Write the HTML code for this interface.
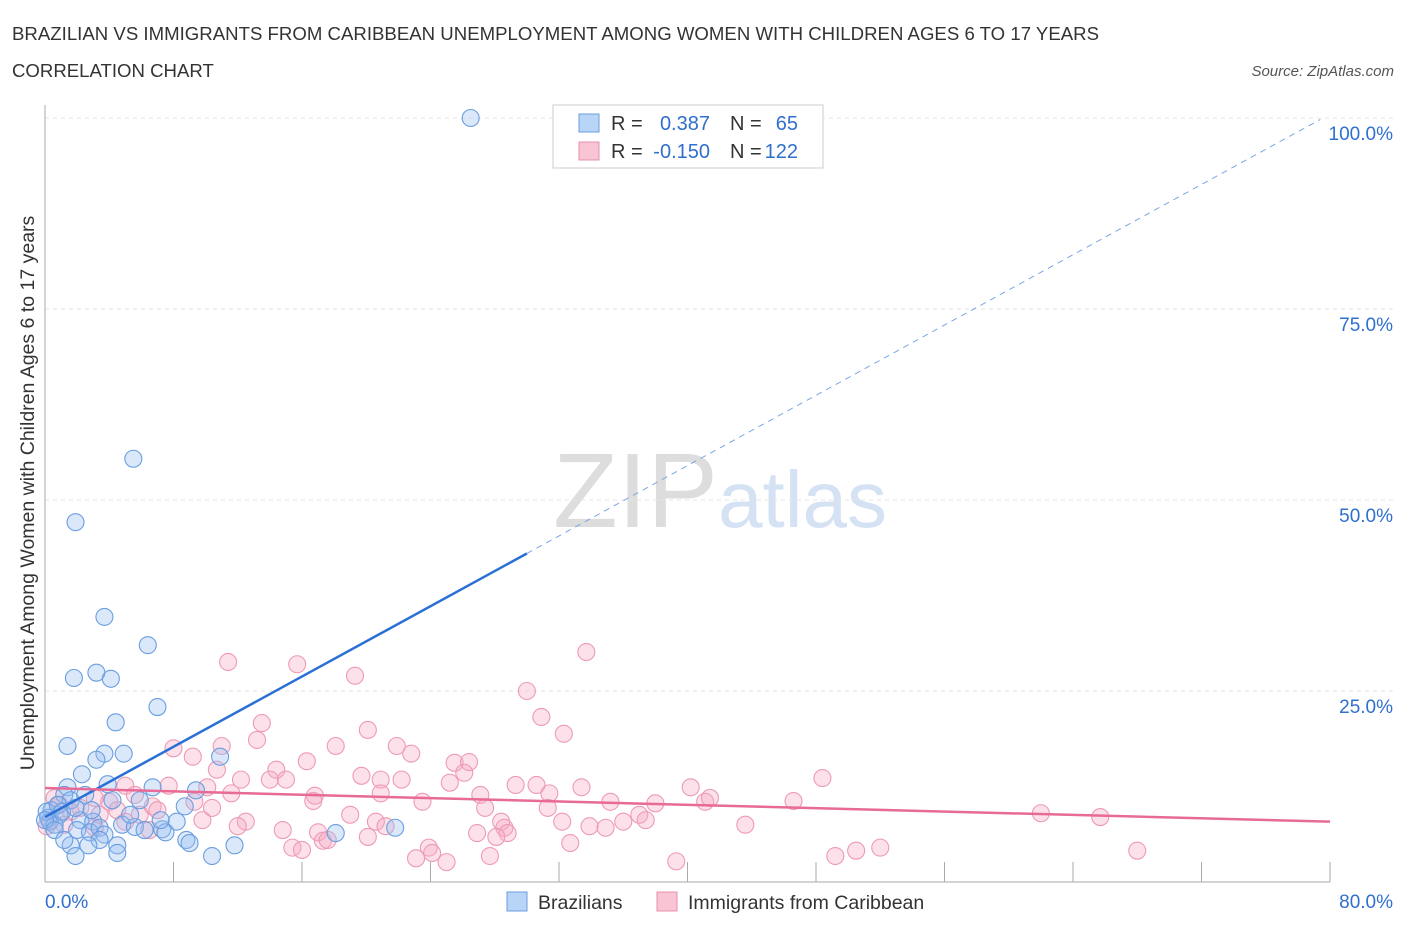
<!DOCTYPE html>
<html><head><meta charset="utf-8"><style>
body{margin:0;background:#fff;font-family:"Liberation Sans",sans-serif;}
svg text{font-family:"Liberation Sans",sans-serif;}
</style></head><body>
<svg width="1406" height="930" xmlns="http://www.w3.org/2000/svg">
<text x="12" y="40" font-size="18.6" fill="#333" textLength="1087">BRAZILIAN VS IMMIGRANTS FROM CARIBBEAN UNEMPLOYMENT AMONG WOMEN WITH CHILDREN AGES 6 TO 17 YEARS</text>
<text x="12" y="77" font-size="18.6" fill="#333">CORRELATION CHART</text>
<text x="1394" y="76" font-size="15" fill="#555" font-style="italic" text-anchor="end">Source: ZipAtlas.com</text>
<g>
<text x="553" y="527" font-size="106" fill="#ddd" font-family="Liberation Serif">ZIP</text>
<text x="718" y="527" font-size="80" fill="#d4e2f4">atlas</text>
</g>
<g id="grid"></g>
<g id="axes"></g>
<g id="pts"></g>
<g id="lines"></g>
<g font-size="20">
<rect x="553" y="105" width="270" height="63" fill="#fff" stroke="#ccc"/>
<rect x="579" y="114" width="20" height="18" fill="#b8d4f6" stroke="#6a9ee0"/>
<rect x="579" y="142" width="20" height="18" fill="#f9c4d4" stroke="#e890aa"/>
<text x="611" y="130" fill="#333">R =</text><text x="710" y="130" fill="#2f6fce" text-anchor="end">0.387</text>
<text x="730" y="130" fill="#333">N =</text><text x="798" y="130" fill="#2f6fce" text-anchor="end">65</text>
<text x="611" y="158" fill="#333">R =</text><text x="710" y="158" fill="#2f6fce" text-anchor="end">-0.150</text>
<text x="730" y="158" fill="#333">N =</text><text x="798" y="158" fill="#2f6fce" text-anchor="end">122</text>
</g>
<g>
<rect x="507" y="892" width="20" height="19" fill="#b8d4f6" stroke="#6a9ee0"/>
<text x="538" y="909" font-size="19.5" fill="#333">Brazilians</text>
<rect x="657" y="892" width="20" height="19" fill="#f9c4d4" stroke="#e890aa"/>
<text x="688" y="909" font-size="19.5" fill="#333">Immigrants from Caribbean</text>
</g>
<text x="34" y="493" font-size="19.5" fill="#333" text-anchor="middle" transform="rotate(-90 34 493)">Unemployment Among Women with Children Ages 6 to 17 years</text>
</svg>
<script>
const blueX=[26.5,5.5,1.9,3.7,6.4,1.8,3.2,4.1,7.0,4.4,1.4,3.7,4.9,3.2,2.3,10.9,3.9,6.7,1.4,1.2,9.4,4.2,8.7,0.4,0.9,0.2,0.3,0.6,0.1,2.2,3.0,2.0,2.8,3.4,3.7,4.8,5.6,7.3,7.5,8.2,3.4,2.7,1.6,4.5,8.8,9.0,11.8,4.5,1.9,10.4,18.1,21.8,2.9,1.6,0,0.8,1.06,1.9,5.9,2.5,5.3,7.2,0.6,1.2,6.2];
const blueY=[100,55.4,47.1,34.7,31.0,26.7,27.4,26.6,22.9,20.9,17.8,16.8,16.8,16.0,14.1,16.4,12.8,12.4,12.4,11.4,12.0,10.7,9.9,9.4,8.8,8.4,7.9,7.5,9.2,8.1,7.9,6.8,6.5,7.1,6.2,7.5,7.2,6.9,6.5,7.9,5.5,4.8,4.8,4.8,5.5,5.1,4.8,3.8,3.4,3.4,6.4,7.1,9.4,10.7,8.1,10.1,9.2,9.7,10.7,11.4,8.8,8.1,6.8,5.5,6.8];
const pinkX=[33.7,11.4,15.7,19.3,30.0,30.9,13.5,32.3,20.1,13.2,8.0,11.0,18.1,21.9,22.8,9.2,16.3,25.5,26.4,26.1,10.7,14.4,19.7,48.4,20.9,22.2,14.0,15.0,12.2,25.2,29.3,30.6,33.4,40.2,5.0,7.7,10.1,20.9,31.4,11.6,16.8,27.1,5.6,0.6,3.1,35.2,38.0,41.1,41.4,46.6,23.5,16.7,9.3,6.7,4.0,27.4,31.3,10.4,7.0,62.0,65.7,19.0,37.0,37.4,36.0,28.4,32.2,43.6,20.6,12.5,9.8,5.0,21.2,28.6,12.0,33.9,34.9,14.8,26.9,28.8,17.0,20.1,17.3,17.6,28.1,32.7,15.4,16.0,23.9,24.1,23.1,25.0,27.7,39.3,49.2,50.5,52.0,68.0,0.9,1.6,2.2,0.3,3.4,4.5,5.9,1.2,3.1,6.5,0.1];
const pinkY=[30.1,28.8,28.5,27.0,25.0,21.6,20.8,19.4,19.9,18.6,17.5,17.8,17.8,17.8,16.8,16.4,15.8,15.6,15.7,14.3,14.7,14.7,13.9,13.6,13.4,13.4,13.4,13.4,13.4,13.0,12.7,12.7,12.4,12.4,12.6,12.6,12.4,11.6,11.6,11.6,11.3,11.4,11.4,11.0,11.0,10.5,10.3,10.5,11.0,10.6,10.5,10.6,10.5,9.9,10.5,9.7,9.7,9.7,9.4,9.0,8.5,8.8,8.8,8.1,7.9,7.9,7.9,7.5,7.9,7.9,8.1,7.9,7.3,7.1,7.3,7.3,7.1,6.8,6.4,6.4,6.5,5.9,5.4,5.5,5.9,5.1,4.5,4.2,4.5,3.8,3.1,2.6,3.4,2.7,3.4,4.1,4.5,4.1,10.1,9.2,9.7,8.1,8.8,9.4,8.8,7.5,7.1,6.8,7.3];
const yTicks=[25,50,75,100];
const yTickLabels=["25.0%","50.0%","75.0%","100.0%"];
const blueFit=[8.5,1.15]; const pinkFit=[12.3,-0.055];
const NS="http://www.w3.org/2000/svg";
const sx=v=>45+v/80*1285, sy=v=>882-v*7.64;
function mk(p,t,a){const e=document.createElementNS(NS,t);for(const k in a)e.setAttribute(k,a[k]);p.appendChild(e);return e;}
const grid=document.getElementById('grid'),axes=document.getElementById('axes'),pts=document.getElementById('pts'),lines=document.getElementById('lines');
yTicks.forEach((v,i)=>{const l=mk(grid,'line',{x1:45,x2:1395,y1:sy(v),y2:sy(v),stroke:'#e6e6e6','stroke-dasharray':'4,4'});


const t=mk(axes,'text',{x:1393,y:sy(v)+22,'font-size':19,fill:'#2f6fce','text-anchor':'end'});t.textContent=yTickLabels[i];

});
const ya=mk(axes,'line',{x1:45,x2:45,y1:105,y2:882,stroke:'#aaa'});


const xa=mk(axes,'line',{x1:45,x2:1330,y1:882,y2:882,stroke:'#aaa'});


for(let i=0;i<=10;i++){const tk=mk(axes,'line',{x1:sx(i*8),x2:sx(i*8),y1:862,y2:882,stroke:'#aaa'});

}
[["0.0%",45,'start'],["80.0%",1393,'end']].forEach(a=>{const t=mk(axes,'text',{x:a[1],y:908,'font-size':19,fill:'#2f6fce','text-anchor':a[2]});t.textContent=a[0];

});
pinkX.forEach((x,i)=>{const c=mk(pts,'circle',{cx:sx(x),cy:sy(pinkY[i]),r:8.5,fill:'rgba(247,170,195,0.35)',stroke:'#ee9ab5','stroke-width':1.1});

});
blueX.forEach((x,i)=>{const c=mk(pts,'circle',{cx:sx(x),cy:sy(blueY[i]),r:8.5,fill:'rgba(150,190,240,0.35)',stroke:'#6a9ee0','stroke-width':1.1});

});
const bf=x=>blueFit[0]+blueFit[1]*x, pf=x=>pinkFit[0]+pinkFit[1]*x;
let l=mk(lines,'line',{x1:sx(0),y1:sy(bf(0)),x2:sx(30),y2:sy(bf(30)),stroke:'#2a6fd6','stroke-width':2.5});


l=mk(lines,'line',{x1:sx(30),y1:sy(bf(30)),x2:sx(79.4),y2:sy(bf(79.4)),stroke:'#7aa6e4','stroke-width':1,'stroke-dasharray':'6,5'});


l=mk(lines,'line',{x1:sx(0),y1:sy(pf(0)),x2:sx(80),y2:sy(pf(80)),stroke:'#e86a96','stroke-width':2.5});


</script>
</body></html>
